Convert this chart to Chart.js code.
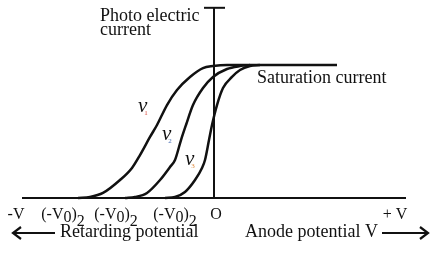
<!DOCTYPE html>
<html>
<head>
<meta charset="utf-8">
<script src="https://cdn.jsdelivr.net/npm/chart.js@4/dist/chart.umd.min.js"></script>
<style>
  html, body { margin: 0; padding: 0; background: #fff; }
  #wrap { width: 434px; height: 258px; }
</style>
</head>
<body>
<div id="wrap"><canvas id="myChart" width="434" height="258"></canvas></div>
<script>
// voltage (x) and photo current (y)
const curveV1X = [-13.6, -12.4, -11.1, -9.4, -8.2, -7.4, -6.4, -5.7, -4.7, -3.7, -2.4, -1.1, -0.1, 1.3, 12.3];
const curveV1Y = [0, 0.075, 0.38, 1.35, 2.26, 3.23, 4.59, 5.49, 6.99, 8.12, 9.10, 9.77, 9.92, 10, 10];
const curveV2X = [-8.9, -7.9, -6.7, -5.4, -4.4, -3.9, -3.3, -2.8, -2.1, -1.1, -0.1, 1.3, 2.6, 3.6];
const curveV2Y = [0, 0.075, 0.38, 1.35, 2.33, 2.86, 4.36, 5.49, 6.99, 8.27, 9.10, 9.70, 9.92, 10];
const curveV3X = [-4.9, -3.9, -2.9, -1.9, -1.2, -0.9, -0.5, -0.2, 0.3, 0.9, 1.8, 2.6, 3.6, 4.6];
const curveV3Y = [0, 0.075, 0.45, 1.35, 2.26, 2.86, 4.36, 5.49, 6.99, 8.27, 9.10, 9.62, 9.92, 10];

const axisLeft = -19.2;
const axisRight = 19.2;
const axisTop = 14.3;

// labels under the voltage axis
const tickLabels = ['-V', '(-V0)2', '(-V0)2', '(-V0)2', 'O', '+ V'];
const tickValues = [-19.8, -15.1, -9.8, -3.9, 0.2, 18.1];

const curveNames = ['ν', 'ν', 'ν'];
const curveSubs = ['1', '2', '3'];
const curveLabelX = [-7.6, -5.2, -2.9];
const curveLabelY = [6.47, 4.36, 2.48];
const SUB_COLORS = ['#d9473a', '#4a6fb5', '#e08a3c'];

const LINE_COLOR = '#111';
const SERIF = '"Liberation Serif", "DejaVu Serif", serif';

function toPoints(xs, ys) {
    return xs.map((x, i) => ({ x: x, y: ys[i] }));
}

function curveSet(xs, ys) {
    return {
        data: toPoints(xs, ys),
        borderColor: LINE_COLOR,
        borderWidth: 2.5,
        pointRadius: 0,
        cubicInterpolationMode: 'monotone',
        fill: false
    };
}

function axisSet(points, width) {
    return {
        data: points,
        borderColor: LINE_COLOR,
        borderWidth: width,
        pointRadius: 0,
        tension: 0,
        fill: false
    };
}

// draws pieces like [text, dy] one after another
function drawPieces(ctx, pieces, cx, y) {
    let total = 0;
    pieces.forEach(p => { total += ctx.measureText(p[0]).width; });
    let x = cx - total / 2;
    pieces.forEach(p => {
        ctx.fillText(p[0], x, y + p[1]);
        x += ctx.measureText(p[0]).width;
    });
}

const textPlugin = {
    id: 'textPlugin',
    afterDatasetsDraw(chart) {
        const ctx = chart.ctx;
        const xs = chart.scales.x;
        const ys = chart.scales.y;
        ctx.save();
        ctx.fillStyle = LINE_COLOR;
        ctx.textBaseline = 'alphabetic';
        ctx.textAlign = 'left';
        ctx.font = '18px ' + SERIF;

        // y axis title
        ctx.fillText('Photo electric', 100, 21);
        ctx.fillText('current', 100, 35);
        ctx.fillText('Saturation current', 257, 83);

        // direction captions
        ctx.fillText('Retarding potential', 60, 237);
        ctx.fillText('Anode potential V', 245, 237);

        // tick labels
        ctx.font = '16px ' + SERIF;
        const baseY = ys.getPixelForValue(0) + 21;
        tickLabels.forEach((t, i) => {
            const cx = xs.getPixelForValue(tickValues[i]);
            let pieces;
            if (t === '(-V0)2') {
                pieces = [['(-V', 0], ['0', 3], [')', 0], ['2', 7]];
            } else {
                pieces = [[t, 0]];
            }
            drawPieces(ctx, pieces, cx, baseY);
        });

        ctx.strokeStyle = LINE_COLOR;
        ctx.lineWidth = 2.2;
        ctx.beginPath();
        ctx.moveTo(55, 233); ctx.lineTo(13, 233);
        ctx.moveTo(21, 227); ctx.lineTo(13, 233); ctx.lineTo(21, 239);
        ctx.moveTo(382, 233); ctx.lineTo(428, 233);
        ctx.moveTo(420, 227); ctx.lineTo(428, 233); ctx.lineTo(420, 239);
        ctx.stroke();

        // curve names
        curveNames.forEach((n, i) => {
            const px = xs.getPixelForValue(curveLabelX[i]);
            const py = ys.getPixelForValue(curveLabelY[i]);
            ctx.fillStyle = LINE_COLOR;
            ctx.font = 'italic 21px ' + SERIF;
            ctx.fillText(n, px, py);
            const w = ctx.measureText(n).width;
            ctx.fillStyle = SUB_COLORS[i];
            ctx.font = '7px ' + SERIF;
            ctx.fillText(curveSubs[i], px + w - 3, py + 3);
        });
        ctx.restore();
    }
};

function drawChart() {
    const ctx = document.getElementById('myChart').getContext('2d');
    const myChart = new Chart(ctx, {
        type: 'line',
        data: {
            datasets: [
                axisSet([{ x: axisLeft, y: 0 }, { x: axisRight, y: 0 }], 2),
                axisSet([{ x: 0, y: 0 }, { x: 0, y: axisTop }], 2),
                axisSet([{ x: -1.0, y: axisTop }, { x: 1.1, y: axisTop }], 2),
                curveSet(curveV1X, curveV1Y),
                curveSet(curveV2X, curveV2Y),
                curveSet(curveV3X, curveV3Y)
            ]
        },
        options: {
            responsive: false,
            animation: false,
            layout: { padding: 0 },
            scales: {
                x: { type: 'linear', display: false, min: -21.4, max: 22.0 },
                y: { type: 'linear', display: false, min: -4.511, max: 14.887 }
            },
            plugins: {
                legend: { display: false },
                tooltip: { enabled: false }
            }
        },
        plugins: [textPlugin]
    });
}

drawChart();
</script>
</body>
</html>
